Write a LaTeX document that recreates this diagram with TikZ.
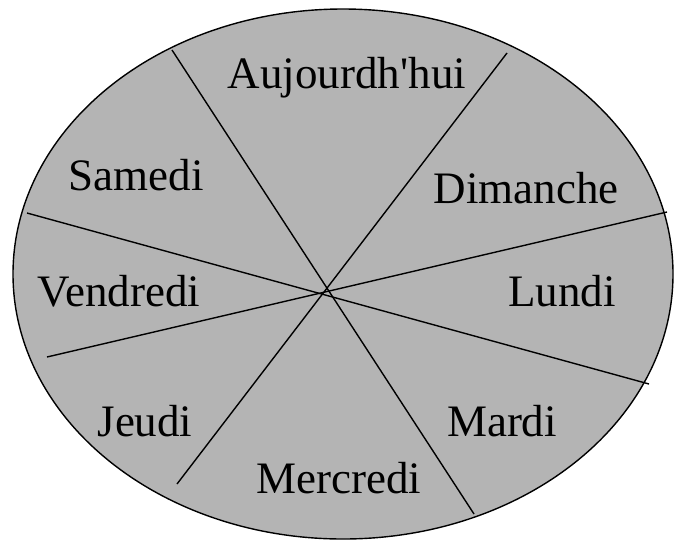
\documentclass[tikz,border=0pt]{standalone}
\usepackage{fontspec}
\setmainfont{Liberation Serif}
\definecolor{wheelgray}{RGB}{180,180,180}
\begin{document}
\begin{tikzpicture}[x=1pt,y=-1pt,
  rim/.style={draw=black,line width=1.4pt,fill=wheelgray},
  spoke/.style={draw=black,line width=1.4pt},
  day/.style={anchor=base,inner sep=0pt,font=\fontsize{45}{54}\selectfont}]
\useasboundingbox (0,0) rectangle (674,542);
\path[rim] (343,274) ellipse [x radius=330,y radius=265];
\coordinate (c) at (326,292);
\coordinate (a1) at (172,50);  \coordinate (a2) at (474,514);
\coordinate (b1) at (507,53);  \coordinate (b2) at (177,484);
\coordinate (e1) at (667,212); \coordinate (e2) at (47,357);
\coordinate (d1) at (27,213);  \coordinate (d2) at (649,384);
\draw[spoke] (a1) -- (a2);
\draw[spoke] (b1) -- (b2);
\draw[spoke] (e1) -- (e2);
\draw[spoke] (d1) -- (d2);
\node[day] (auj) at (347,88) {Aujourdh\textquotesingle hui};
\node[day] (sam) at (136,190) {Samedi};
\node[day] (dim) at (526,203) {Dimanche};
\node[day] (ven) at (119,306) {Vendredi};
\node[day] (lun) at (562,306) {Lundi};
\node[day] (jeu) at (145,436) {Jeudi};
\node[day] (mar) at (502,436) {Mardi};
\node[day] (mer) at (339,493) {Mercredi};
\end{tikzpicture}
\end{document}
